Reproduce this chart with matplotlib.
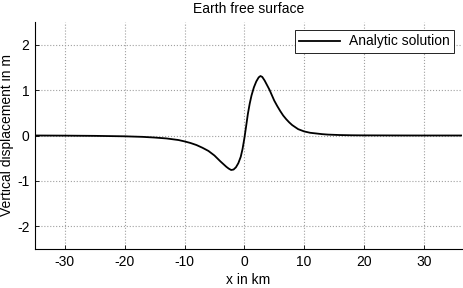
import matplotlib.pyplot as plt
import numpy as np

plt.rcParams['font.family'] = ['Liberation Sans', 'DejaVu Sans']
plt.rcParams['axes.unicode_minus'] = False

# values
x_km = [-35, -30, -25, -20, -17, -15, -13, -11, -10, -9, -8, -7, -6, -5, -4,
        -3.5, -3, -2.6, -2.2, -1.8, -1.4, -1.0, -0.6, -0.3, 0, 0.3, 0.6, 0.9,
        1.2, 1.6, 2.0, 2.4, 2.7, 3.0, 3.4, 3.8, 4.2, 4.6, 5, 5.5, 6, 6.5, 7,
        7.5, 8, 9, 10, 11, 12, 13, 14, 16, 18, 20, 25, 30, 37]
disp_m = [0, -0.003, -0.008, -0.018, -0.03, -0.045, -0.065, -0.10, -0.13,
          -0.165, -0.21, -0.27, -0.34, -0.44, -0.57, -0.63, -0.69, -0.73,
          -0.76, -0.75, -0.70, -0.61, -0.47, -0.30, -0.07, 0.20, 0.48, 0.70,
          0.88, 1.06, 1.19, 1.28, 1.31, 1.29, 1.21, 1.11, 1.01, 0.89, 0.77,
          0.65, 0.54, 0.44, 0.36, 0.29, 0.23, 0.14, 0.09, 0.06, 0.045, 0.03,
          0.02, 0.01, 0.005, 0.003, 0.001, 0, 0]

x_ticks = [-30, -20, -10, 0, 10, 20, 30]
y_ticks = [-2, -1, 0, 1, 2]

fig = plt.figure(figsize=(4.64, 2.88), dpi=100)
ax = fig.add_axes([35 / 464, 39 / 288, 427 / 464, 227 / 288])

ax.plot(x_km, disp_m, color='black', linewidth=1.3, label='Analytic solution')

ax.set_xlim(-35, 36.4)
ax.set_ylim(-2.5, 2.5)
ax.set_xticks(x_ticks)
ax.set_yticks(y_ticks)
ax.tick_params(direction='in', length=3, labelsize=10, width=0.6, pad=4)
ax.grid(True, linestyle=':', color='#a0a0a0', linewidth=0.8)

for s in ['top', 'right']:
    ax.spines[s].set_visible(False)
for s in ['left', 'bottom']:
    ax.spines[s].set_linewidth(0.8)

ax.set_title('Earth free surface', fontsize=10, pad=6.5)
ax.set_xlabel('x in km', fontsize=10, labelpad=3)
ax.set_ylabel('Vertical displacement in m', fontsize=10)
ax.yaxis.set_label_coords(-0.05, 0.5)

leg = ax.legend(loc='upper right', fontsize=10, fancybox=False,
                edgecolor='black', framealpha=1, handlelength=3.0,
                borderaxespad=0.6, borderpad=0.3, handletextpad=0.6)
leg.get_frame().set_linewidth(0.6)

fig.savefig('out.png', dpi=100)
